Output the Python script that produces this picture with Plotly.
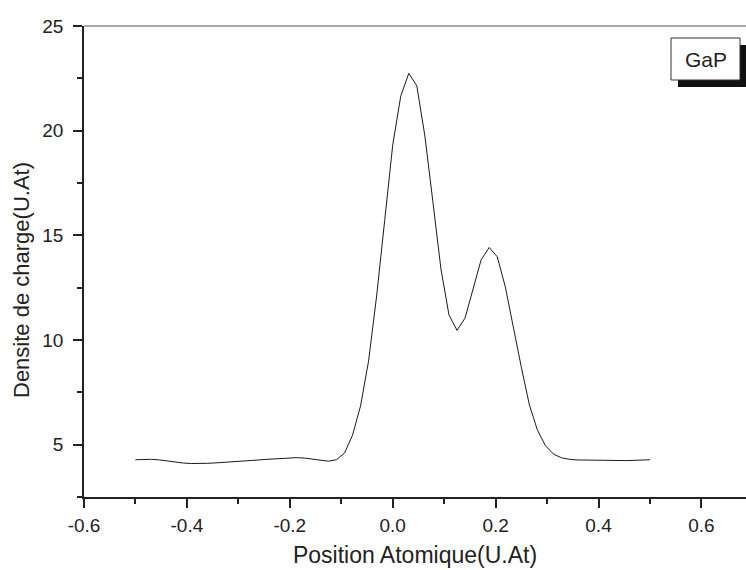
import plotly.graph_objects as go

# ---- data ----
position = [
    -0.5, -0.484375, -0.46875, -0.453125, -0.4375, -0.421875, -0.40625, -0.390625,
    -0.375, -0.359375, -0.34375, -0.328125, -0.3125, -0.296875, -0.28125, -0.265625,
    -0.25, -0.234375, -0.21875, -0.203125, -0.1875, -0.171875, -0.15625, -0.140625,
    -0.125, -0.109375, -0.09375, -0.078125, -0.0625, -0.046875, -0.03125, -0.015625,
    0.0, 0.015625, 0.03125, 0.046875, 0.0625, 0.078125, 0.09375, 0.109375,
    0.125, 0.140625, 0.15625, 0.171875, 0.1875, 0.203125, 0.21875, 0.234375,
    0.25, 0.265625, 0.28125, 0.296875, 0.3125, 0.328125, 0.34375, 0.359375,
    0.375, 0.390625, 0.40625, 0.421875, 0.4375, 0.453125, 0.46875, 0.484375, 0.5,
]
densite = [
    4.28, 4.30, 4.30, 4.27, 4.21, 4.16, 4.12, 4.10,
    4.09, 4.11, 4.13, 4.15, 4.18, 4.21, 4.24, 4.26,
    4.29, 4.32, 4.35, 4.37, 4.38, 4.36, 4.32, 4.26,
    4.21, 4.28, 4.60, 5.45, 6.85, 9.0, 12.1, 15.7,
    19.3, 21.65, 22.74, 22.14, 19.75, 16.6, 13.4, 11.2,
    10.46, 11.05, 12.45, 13.83, 14.42, 13.98, 12.55, 10.6,
    8.7, 6.9, 5.7, 4.95, 4.55, 4.37, 4.30, 4.27,
    4.26, 4.25, 4.25, 4.24, 4.24, 4.24, 4.25, 4.26, 4.28,
]
x_ticks = [-0.6, -0.4, -0.2, 0.0, 0.2, 0.4, 0.6]
x_ticklabels = ["-0.6", "-0.4", "-0.2", "0.0", "0.2", "0.4", "0.6"]
y_ticks = [5, 10, 15, 20, 25]
y_ticklabels = ["5", "10", "15", "20", "25"]
label_text = "GaP"
x_title = "Position Atomique(U.At)"
y_title = "Densite de charge(U.At)"

# ---- layout geometry (pixels) ----
W, H = 746, 570
ML, MR, MT, MB = 84, 0, 26, 73
PW, PH = W - ML - MR, H - MT - MB

def px(x):
    return (x - ML) / PW

def py(y):
    return (H - MB - y) / PH

FONT = "Liberation Sans, Arial, Helvetica, sans-serif"
INK = "#222222"

fig = go.Figure()
fig.add_trace(go.Scatter(
    x=position, y=densite, mode="lines",
    line=dict(color="#1a1a1a", width=1),
    showlegend=False, hoverinfo="x+y",
))

axis_common = dict(
    showgrid=False, zeroline=False, showline=True, linecolor=INK, linewidth=1.5,
    ticks="outside", tickcolor=INK, tickwidth=1.5, ticklen=9,
    tickfont=dict(family=FONT, size=19, color=INK),
)

fig.update_layout(
    width=W, height=H,
    margin=dict(l=ML, r=MR, t=MT, b=MB, pad=0),
    paper_bgcolor="white", plot_bgcolor="white",
    font=dict(family=FONT, color=INK),
    xaxis=dict(
        range=[-0.6, -0.6 + PW / 514.5],
        tickmode="array", tickvals=x_ticks, ticktext=x_ticklabels,
        minor=dict(dtick=0.1, tick0=0, ticks="outside", ticklen=5, tickwidth=1.5, tickcolor=INK),
        title=dict(text=x_title, font=dict(family=FONT, size=23, color=INK), standoff=12),
        ticklabelstandoff=1,
        **axis_common,
    ),
    yaxis=dict(
        range=[2.5, 25],
        tickmode="array", tickvals=y_ticks, ticktext=y_ticklabels,
        minor=dict(dtick=2.5, tick0=0, ticks="outside", ticklen=5, tickwidth=1.5, tickcolor=INK),
        ticklabelstandoff=6,
        **axis_common,
    ),
    shapes=[
        # top frame line (gray)
        dict(type="line", xref="paper", yref="paper", x0=0, x1=1, y0=1, y1=1,
             line=dict(color="#8c8c8c", width=1.5), layer="above"),
        # label shadow
        dict(type="rect", xref="paper", yref="paper",
             x0=px(678), x1=px(746), y0=py(87), y1=py(45),
             fillcolor="#111111", line=dict(width=0), layer="above"),
        # label box
        dict(type="rect", xref="paper", yref="paper",
             x0=px(671), x1=px(740), y0=py(80), y1=py(38),
             fillcolor="white", line=dict(color="#333333", width=1), layer="above"),
    ],
    annotations=[
        dict(text=label_text, xref="paper", yref="paper",
             x=px(705.5), y=py(59.5), xanchor="center", yanchor="middle",
             showarrow=False, font=dict(family=FONT, size=21, color=INK)),
        dict(text=y_title, xref="paper", yref="paper", textangle=-90,
             x=px(21), y=py(280), xanchor="center", yanchor="middle",
             showarrow=False, font=dict(family=FONT, size=22, color=INK)),
    ],
)

fig.write_html("out.html")
